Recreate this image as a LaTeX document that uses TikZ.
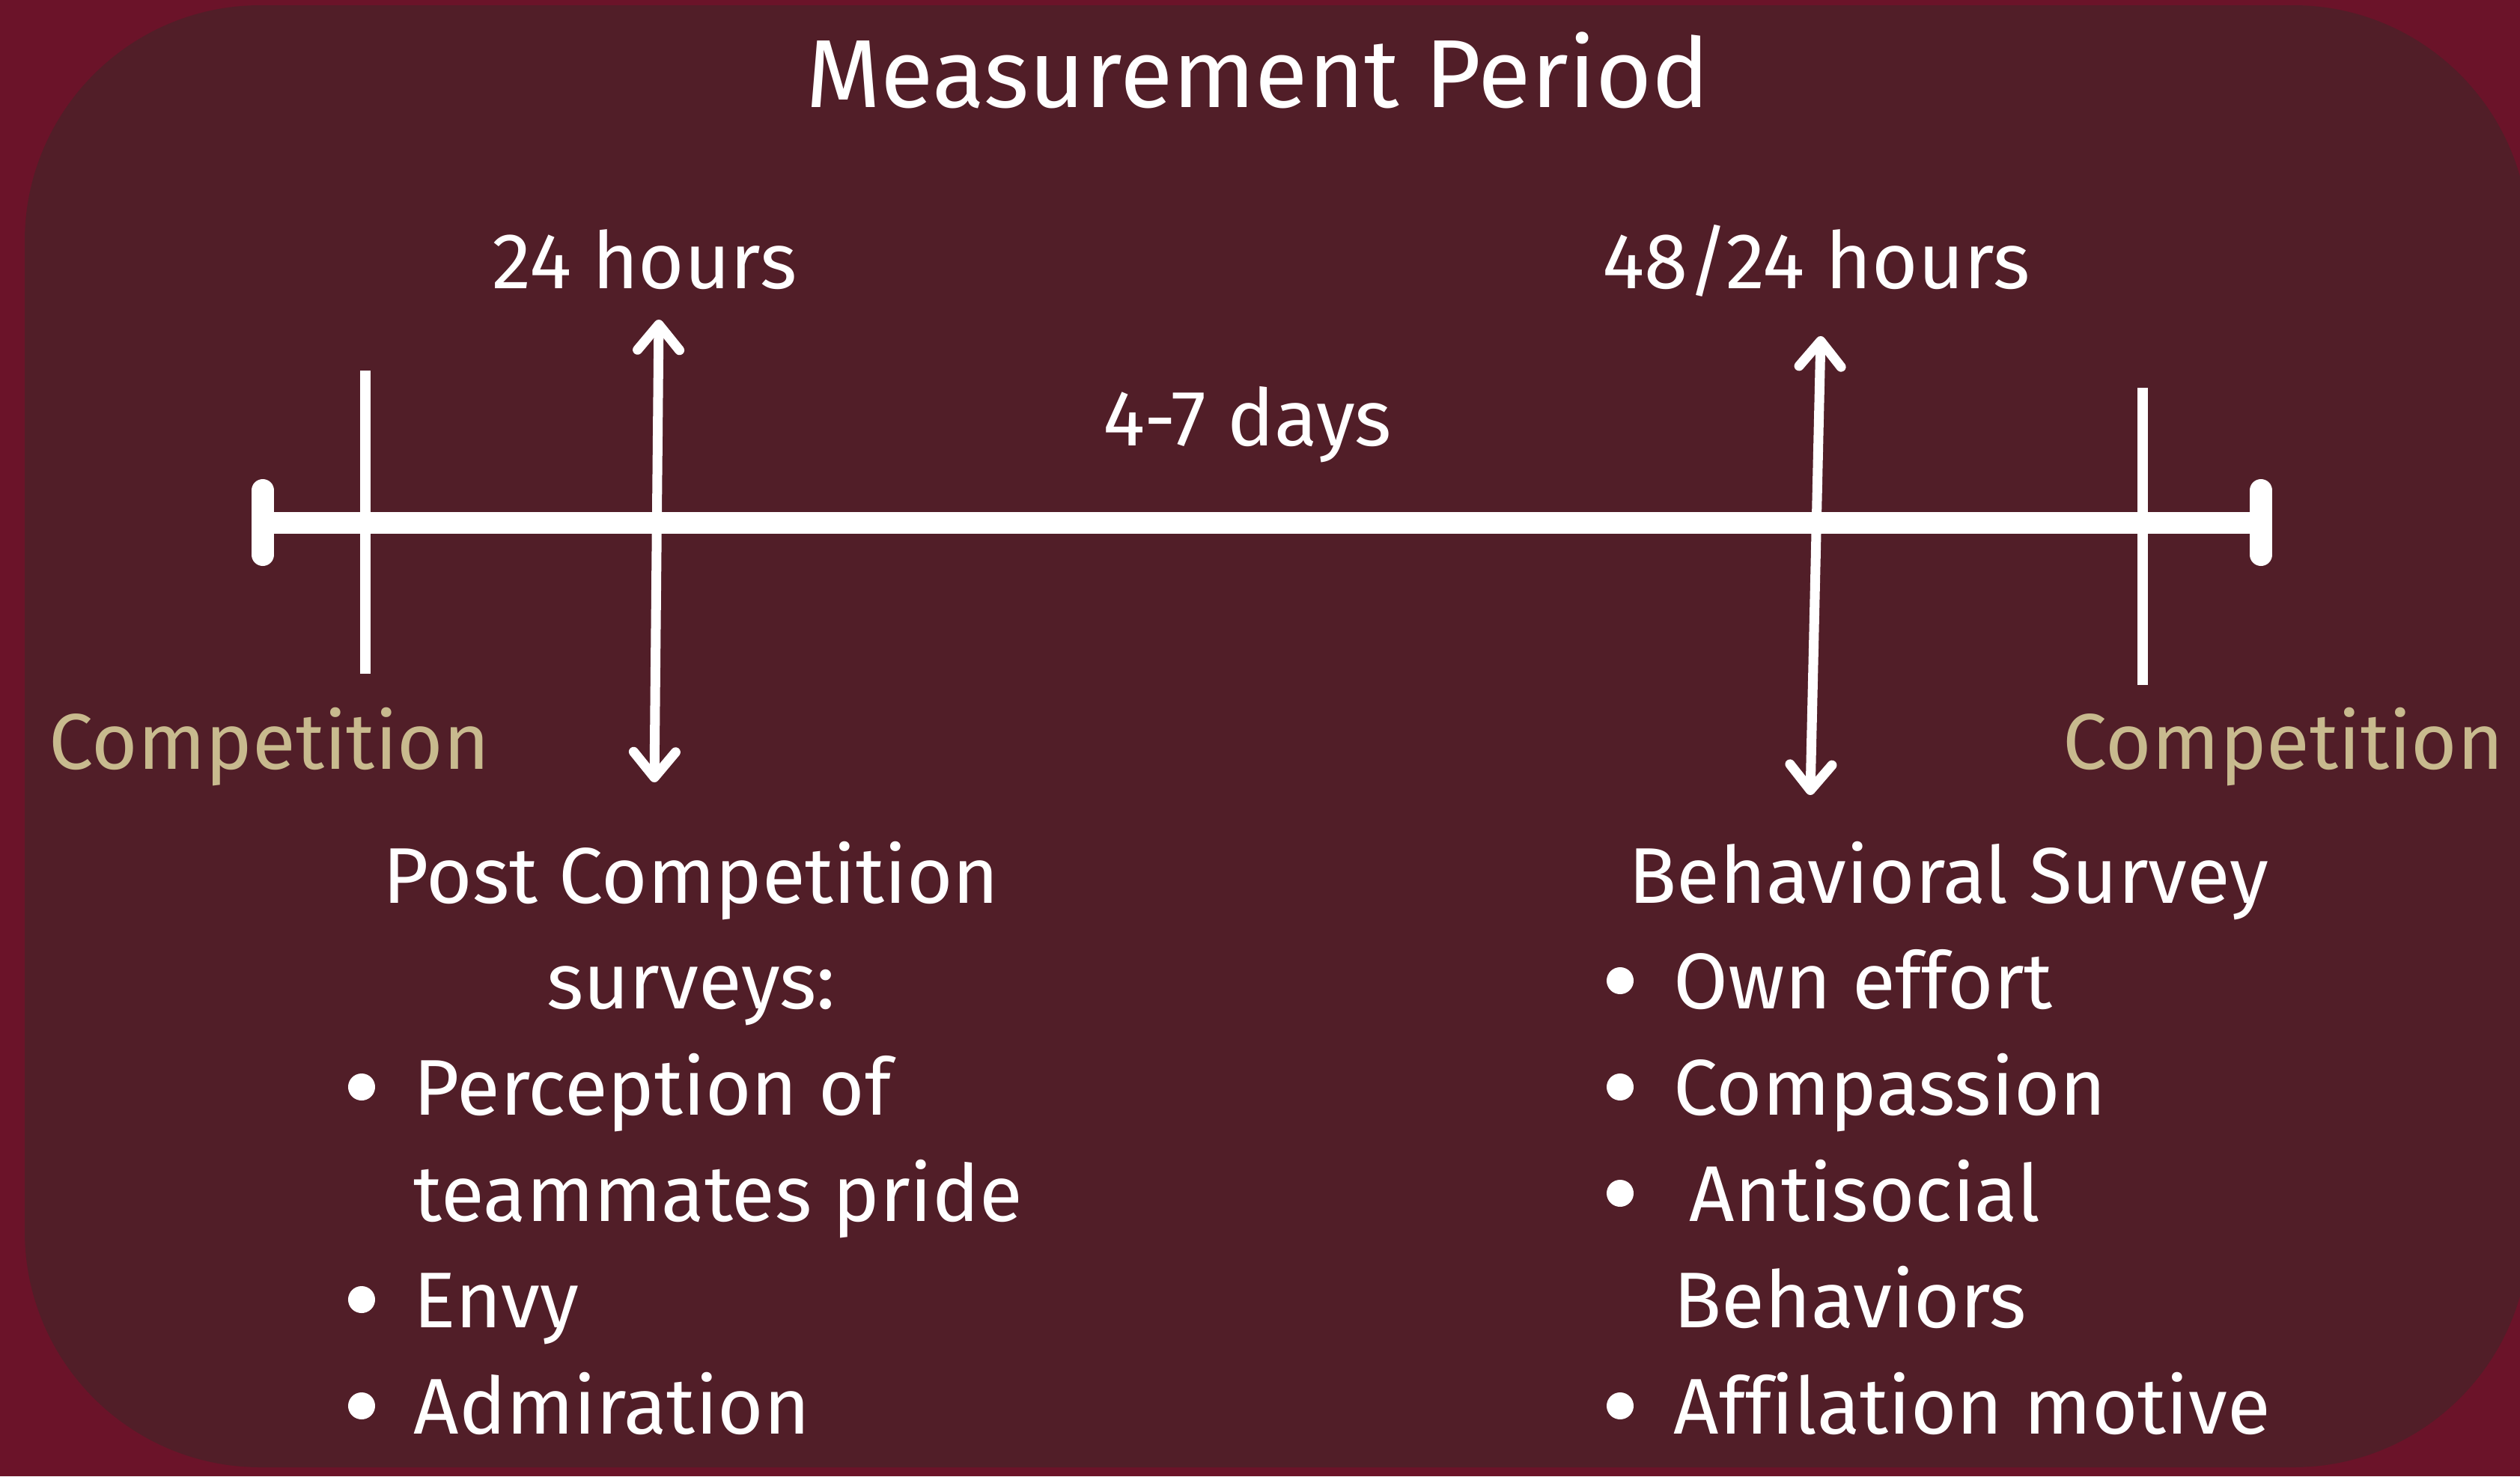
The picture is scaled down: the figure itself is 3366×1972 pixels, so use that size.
\documentclass[tikz,border=0pt]{standalone}
\usepackage{fontspec}
\setmainfont{Fira Sans}[Ligatures=NoCommon]
\usetikzlibrary{arrows.meta}
\definecolor{outerred}{HTML}{6B1329}
\definecolor{innerred}{HTML}{511E28}
\definecolor{sand}{HTML}{C8BA8E}

\begin{document}
\begin{tikzpicture}[x=0.01cm, y=-0.01cm,
  txt/.style={text=white, inner sep=0pt, font=\fontsize{30}{36}\selectfont},
  comp/.style={txt, text=sand, anchor=base},
  item/.style={txt, anchor=base west},
  dot/.style={circle, fill=white, inner sep=0pt, minimum size=0.36cm},
  tick/.style={white, line width=0.14cm},
  endcap/.style={white, line width=0.3cm, line cap=round},
  dbl/.style={white, line width=0.13cm, {Straight Barb[round, length=0.34cm, width=0.56cm]}-{Straight Barb[round, length=0.34cm, width=0.56cm]}}]
\useasboundingbox (0,0) rectangle (3366,1972);
\clip (0,0) rectangle (3366,1972);
\fill[outerred] (0,0) rectangle (3366,1972);
\fill[innerred, rounded corners=3.15cm] (33,7) rectangle (3378,1960);
\node[txt, anchor=base, font=\fontsize{36.7}{44}\selectfont] (title) at (1680,143) {Measurement Period};
\coordinate (s) at (351,698); \coordinate (e) at (3020,698);
\coordinate (s1) at (351,655); \coordinate (s2) at (351,741);
\coordinate (e1) at (3020,655); \coordinate (e2) at (3020,741);
\coordinate (c1) at (488,495); \coordinate (c2) at (488,900);
\coordinate (d1) at (2862,518); \coordinate (d2) at (2862,915);
\coordinate (p1) at (880,427); \coordinate (p2) at (874,1045);
\coordinate (q1) at (2432,449); \coordinate (q2) at (2418,1062);
\draw[white, line width=0.29cm] (s) -- (e);
\draw[endcap] (s1) -- (s2);
\draw[endcap] (e1) -- (e2);
\draw[tick] (c1) -- (c2);
\draw[tick] (d1) -- (d2);
\draw[dbl] (p1) -- (p2);
\draw[dbl] (q1) -- (q2);
\node[txt, anchor=base] (h24) at (861,385) {24 hours};
\node[txt, anchor=base] (h48) at (2426,385) {48/24 hours};
\node[txt, anchor=base] (days) at (1666,595) {4-7 days};
\node[comp] (compL) at (360,1027) {Competition};
\node[comp] (compR) at (3050,1027) {Competition};
\node[txt, anchor=base] (post) at (923,1206) {Post Competition};
\node[txt, anchor=base] (surv) at (923,1347) {surveys:};
\node[dot] (b1) at (483,1452) {}; \node[item] (l1) at (552,1489) {Perception of};
\node[item] (l2) at (552,1631) {teammates pride};
\node[dot] (b2) at (483,1736) {}; \node[item] (l3) at (552,1773) {Envy};
\node[dot] (b3) at (483,1878) {}; \node[item] (l4) at (552,1915) {Admiration};
\node[txt, anchor=base] (beh) at (2603,1206) {Behavioral Survey};
\node[dot] (r1) at (2164,1310) {}; \node[item] (m1) at (2235,1347) {Own effort};
\node[dot] (r2) at (2164,1452) {}; \node[item] (m2) at (2235,1489) {Compassion};
\node[dot] (r3) at (2164,1594) {}; \node[item] (m3) at (2256,1631) {Antisocial};
\node[item] (m4) at (2235,1773) {Behaviors};
\node[dot] (r4) at (2164,1878) {}; \node[item] (m5) at (2235,1915) {Affilation motive};
\end{tikzpicture}
\end{document}
